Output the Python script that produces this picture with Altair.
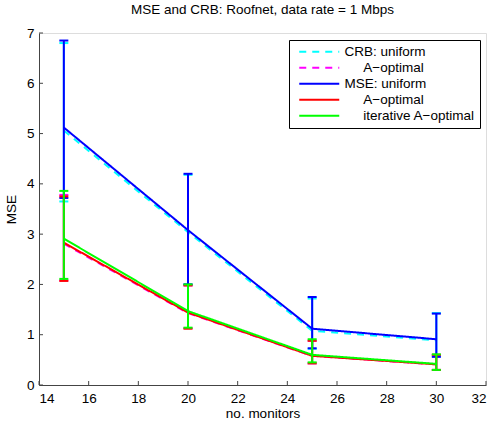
import altair as alt
import pandas as pd

# number of monitors on the x axis
monitors = [15, 20, 25, 30]

# Cramer-Rao bound, uniform design
crb_uniform = [5.06, 3.04, 1.08, 0.89]
crb_uniform_lo = [3.65, 2.00, 0.72, 0.57]
crb_uniform_hi = [6.80, 4.18, 1.72, 1.43]

# Cramer-Rao bound, A-optimal design
crb_aopt = [2.81, 1.43, 0.58, 0.41]
crb_aopt_lo = [2.08, 1.13, 0.43, 0.30]
crb_aopt_hi = [3.78, 1.98, 0.88, 0.60]

# empirical MSE, uniform design
mse_uniform = [5.12, 3.08, 1.12, 0.91]
mse_uniform_lo = [3.72, 2.00, 0.73, 0.56]
mse_uniform_hi = [6.85, 4.20, 1.75, 1.42]

# empirical MSE, A-optimal design
mse_aopt = [2.83, 1.44, 0.58, 0.41]
mse_aopt_lo = [2.07, 1.12, 0.43, 0.30]
mse_aopt_hi = [3.75, 1.98, 0.88, 0.60]

# empirical MSE, iterative A-optimal design
mse_iter = [2.91, 1.47, 0.60, 0.42]
mse_iter_lo = [2.11, 1.14, 0.45, 0.30]
mse_iter_hi = [3.86, 2.00, 0.91, 0.61]

# leading zero-width char keeps the indent from being trimmed away
INDENT = "\u200b" + "\u00a0" * 5

series_keys = ["crb_u", "crb_a", "mse_u", "mse_a", "mse_i"]
series_labels = [
    "CRB: uniform",
    INDENT + "A\u2212optimal",
    "MSE: uniform",
    INDENT + "A\u2212optimal",
    INDENT + "iterative A\u2212optimal",
]
series_colors = ["#00FFFF", "#FF00FF", "#0000FF", "#FF0000", "#00FF00"]
series_dashes = [[7, 6], [7, 6], [1, 0], [1, 0], [1, 0]]

x_ticks = [14, 16, 18, 20, 22, 24, 26, 28, 30, 32]
y_ticks = [0, 1, 2, 3, 4, 5, 6, 7]

values = {
    "crb_u": (crb_uniform, crb_uniform_lo, crb_uniform_hi),
    "crb_a": (crb_aopt, crb_aopt_lo, crb_aopt_hi),
    "mse_u": (mse_uniform, mse_uniform_lo, mse_uniform_hi),
    "mse_a": (mse_aopt, mse_aopt_lo, mse_aopt_hi),
    "mse_i": (mse_iter, mse_iter_lo, mse_iter_hi),
}

W, H = 447, 352
FONT = "Liberation Sans"
FS = 13.5
AXIS_COLOR = "#444444"

label_expr = " : ".join(
    f"datum.label == '{k}' ? '{lab}'" for k, lab in zip(series_keys, series_labels)
) + " : datum.label"

xs = alt.Scale(domain=[14, 32], nice=False, zero=False)
ys = alt.Scale(domain=[0, 7], nice=False)

color_scale = alt.Scale(domain=series_keys, range=series_colors)
dash_scale = alt.Scale(domain=series_keys, range=series_dashes)

# a wide, flat line sample: the path spans 5x the nominal symbol radius
legend = alt.Legend(
    title=None,
    orient="none",
    legendX=250,
    legendY=7,
    symbolType="M-5,0H5",
    symbolSize=64,
    symbolStrokeWidth=2,
    symbolOffset=18.5,
    labelFont=FONT,
    labelFontSize=FS,
    labelColor="black",
    labelExpr=label_expr,
    labelOffset=18.5,
    strokeColor="black",
    fillColor="white",
    padding=5,
    rowPadding=1,
)

x_axis = alt.Axis(
    values=x_ticks, tickSize=0, labelPadding=6, grid=False,
    labelFont=FONT, labelFontSize=FS, labelColor="black",
    domainColor=AXIS_COLOR, title="no. monitors", titleFont=FONT,
    titleFontSize=FS, titleFontWeight="normal", titleColor="black",
    titlePadding=2,
)
y_axis = alt.Axis(
    values=y_ticks, tickSize=0, labelPadding=5, grid=False,
    labelFont=FONT, labelFontSize=FS, labelColor="black",
    domainColor=AXIS_COLOR, title="MSE", titleFont=FONT,
    titleFontSize=FS, titleFontWeight="normal", titleColor="black",
    titlePadding=8,
)

layers = []

# inward-pointing tick marks
layers.append(
    alt.Chart(pd.DataFrame({"t": x_ticks}))
    .mark_rule(color=AXIS_COLOR, strokeWidth=1)
    .encode(x=alt.X("t:Q", scale=xs, axis=x_axis), y=alt.value(H), y2=alt.value(H - 4))
)
layers.append(
    alt.Chart(pd.DataFrame({"t": y_ticks}))
    .mark_rule(color=AXIS_COLOR, strokeWidth=1)
    .encode(y=alt.Y("t:Q", scale=ys, axis=y_axis), x=alt.value(0), x2=alt.value(4))
)

for key, col in zip(series_keys, series_colors):
    mean, lo, hi = values[key]
    d = pd.DataFrame({"n": monitors, "v": mean, "lo": lo, "hi": hi, "series": key})
    base = alt.Chart(d)
    layers.append(
        base.mark_rule(color=col, strokeWidth=2).encode(
            x=alt.X("n:Q", scale=xs), y=alt.Y("lo:Q", scale=ys), y2="hi:Q"
        )
    )
    for end in ("lo", "hi"):
        layers.append(
            base.mark_tick(color=col, thickness=2, size=9, orient="horizontal", opacity=1).encode(
                x=alt.X("n:Q", scale=xs), y=alt.Y(f"{end}:Q", scale=ys)
            )
        )
    layers.append(
        base.mark_line(strokeWidth=2).encode(
            x=alt.X("n:Q", scale=xs),
            y=alt.Y("v:Q", scale=ys),
            color=alt.Color("series:N", scale=color_scale, legend=legend),
            strokeDash=alt.StrokeDash("series:N", scale=dash_scale, legend=legend),
        )
    )

chart = (
    alt.layer(*layers)
    .properties(
        width=W,
        height=H,
        title=alt.TitleParams(
            "MSE and CRB: Roofnet, data rate = 1 Mbps",
            font=FONT, fontSize=FS, fontWeight="normal", color="black",
            anchor="middle", offset=10,
        ),
        autosize=alt.AutoSizeParams(type="none"),
        padding={"left": 39, "top": 33, "right": 10, "bottom": 38},
    )
    .configure_view(stroke=None)
    .configure(background="white")
)

chart.save("out.html", embed_options={"renderer": "svg", "actions": False})
